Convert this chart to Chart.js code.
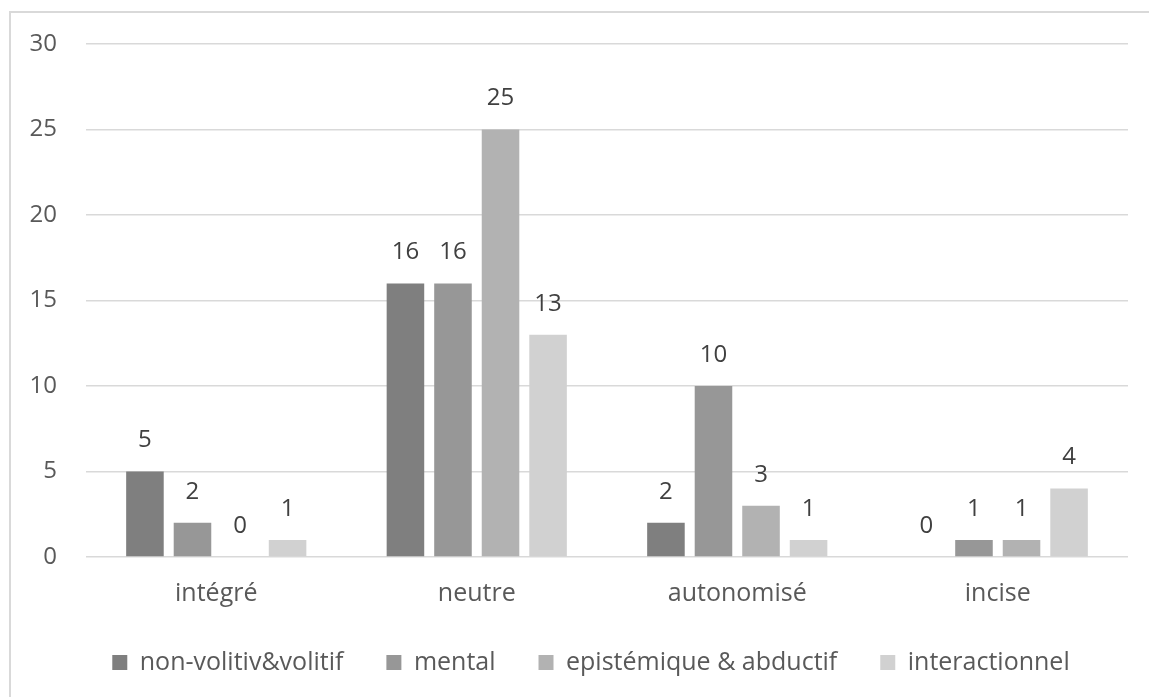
<!DOCTYPE html>
<html>
<head>
<meta charset="utf-8">
<script src="https://cdn.jsdelivr.net/npm/chart.js@4/dist/chart.umd.min.js"></script>
<style>
  html, body { margin: 0; padding: 0; background: #ffffff; }
  #wrap { position: relative; width: 1149px; height: 697px; }
</style>
</head>
<body>
<div id="wrap"><canvas id="c" width="1149" height="697"></canvas></div>
<script>
const categories = ['intégré', 'neutre', 'autonomisé', 'incise'];
const seriesNames = ['non-volitiv&volitif', 'mental', 'epistémique & abductif', 'interactionnel'];
const nonVolitif = [5, 16, 2, 0];
const mental = [2, 16, 10, 1];
const epistemique = [0, 25, 3, 1];
const interactionnel = [1, 13, 1, 4];
const yTicks = [0, 5, 10, 15, 20, 25, 30];

const seriesValues = [nonVolitif, mental, epistemique, interactionnel];
const seriesColors = ['#7f7f7f', '#979797', '#b2b2b2', '#d1d1d1'];

const FONT = 'Open Sans';
const FONT_SIZE = 24;
const LABEL_SIZE = 25;

// frame lines along the top and left edges
const framePlugin = {
  id: 'frame',
  beforeDraw(chart) {
    const ctx = chart.ctx;
    ctx.save();
    ctx.strokeStyle = '#d9d9d9';
    ctx.lineWidth = 2;
    ctx.beginPath();
    ctx.moveTo(10, 697);
    ctx.lineTo(10, 12);
    ctx.lineTo(1149, 12);
    ctx.stroke();
    ctx.restore();
  }
};

// nudge the legend row to its place under the axis labels
const legendPlace = {
  id: 'legendPlace',
  afterLayout(chart) {
    const lg = chart.legend;
    if (!lg) return;
    const dx = 22, dy = -12;
    lg.left += dx; lg.right += dx;
    lg.top += dy; lg.bottom += dy;
  }
};

// value labels above each bar
const valueLabels = {
  id: 'valueLabels',
  afterDatasetsDraw(chart) {
    const ctx = chart.ctx;
    ctx.save();
    ctx.font = FONT_SIZE + 'px "' + FONT + '"';
    ctx.fillStyle = '#404040';
    ctx.textAlign = 'center';
    ctx.textBaseline = 'middle';
    chart.data.datasets.forEach((ds, i) => {
      chart.getDatasetMeta(i).data.forEach((bar, j) => {
        ctx.fillText(String(ds.data[j]), bar.x, bar.y - 31);
      });
    });
    ctx.restore();
  }
};

new Chart(document.getElementById('c'), {
  type: 'bar',
  data: {
    labels: categories,
    datasets: seriesNames.map((name, i) => ({
      label: name,
      data: seriesValues[i],
      backgroundColor: seriesColors[i],
      borderWidth: 0,
      categoryPercentage: 0.73,
      barPercentage: 0.79
    }))
  },
  options: {
    responsive: false,
    animation: false,
    layout: { padding: { left: 10, right: 21, top: 44, bottom: 0 } },
    plugins: {
      tooltip: { enabled: false },
      legend: {
        position: 'bottom',
        labels: {
          boxWidth: 15,
          boxHeight: 15,
          padding: 43,
          color: '#595959',
          font: { family: FONT, size: LABEL_SIZE }
        }
      }
    },
    scales: {
      x: {
        grid: { display: false, drawTicks: false },
        border: { display: false },
        ticks: { color: '#595959', padding: 22, font: { family: FONT, size: LABEL_SIZE } },
        afterFit(s) { s.height = 62; }
      },
      y: {
        min: 0,
        max: 30,
        afterBuildTicks(s) { s.ticks = yTicks.map(v => ({ value: v })); },
        grid: { color: '#d9d9d9', lineWidth: 1.5, drawTicks: false },
        border: { display: false },
        ticks: { color: '#595959', padding: 29, font: { family: FONT, size: FONT_SIZE } },
        afterFit(s) { s.width = 76; }
      }
    }
  },
  plugins: [framePlugin, legendPlace, valueLabels]
});
</script>
</body>
</html>
